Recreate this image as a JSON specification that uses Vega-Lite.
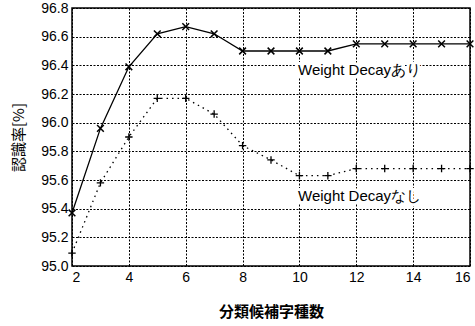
{
  "$schema": "https://vega.github.io/schema/vega-lite/v6.json",
  "width": 398,
  "height": 258,
  "autosize": {"type": "none"},
  "padding": {"left": 72, "top": 8, "right": 5, "bottom": 60},
  "background": "white",
  "config": {
    "view": {"stroke": "black", "strokeWidth": 1.5},
    "font": "Liberation Sans"
  },
  "datasets": {
    "series": [
      {"k": 2, "rate": 95.37, "wd": "あり"},
      {"k": 3, "rate": 95.96, "wd": "あり"},
      {"k": 4, "rate": 96.39, "wd": "あり"},
      {"k": 5, "rate": 96.62, "wd": "あり"},
      {"k": 6, "rate": 96.67, "wd": "あり"},
      {"k": 7, "rate": 96.62, "wd": "あり"},
      {"k": 8, "rate": 96.50, "wd": "あり"},
      {"k": 9, "rate": 96.50, "wd": "あり"},
      {"k": 10, "rate": 96.50, "wd": "あり"},
      {"k": 11, "rate": 96.50, "wd": "あり"},
      {"k": 12, "rate": 96.55, "wd": "あり"},
      {"k": 13, "rate": 96.55, "wd": "あり"},
      {"k": 14, "rate": 96.55, "wd": "あり"},
      {"k": 15, "rate": 96.55, "wd": "あり"},
      {"k": 16, "rate": 96.55, "wd": "あり"},
      {"k": 2, "rate": 95.09, "wd": "なし"},
      {"k": 3, "rate": 95.58, "wd": "なし"},
      {"k": 4, "rate": 95.90, "wd": "なし"},
      {"k": 5, "rate": 96.17, "wd": "なし"},
      {"k": 6, "rate": 96.17, "wd": "なし"},
      {"k": 7, "rate": 96.06, "wd": "なし"},
      {"k": 8, "rate": 95.84, "wd": "なし"},
      {"k": 9, "rate": 95.74, "wd": "なし"},
      {"k": 10, "rate": 95.63, "wd": "なし"},
      {"k": 11, "rate": 95.63, "wd": "なし"},
      {"k": 12, "rate": 95.68, "wd": "なし"},
      {"k": 13, "rate": 95.68, "wd": "なし"},
      {"k": 14, "rate": 95.68, "wd": "なし"},
      {"k": 15, "rate": 95.68, "wd": "なし"},
      {"k": 16, "rate": 95.68, "wd": "なし"}
    ],
    "labels": [
      {"k": 9.95, "rate": 96.37, "text": "Weight Decayあり"},
      {"k": 9.95, "rate": 95.49, "text": "Weight Decayなし"}
    ]
  },
  "encoding": {
    "x": {
      "field": "k", "type": "quantitative",
      "scale": {"domain": [2, 16], "nice": false, "zero": false},
      "axis": {
        "values": [2, 4, 6, 8, 10, 12, 14, 16],
        "title": "分類候補字種数",
        "titleFont": "Noto Sans CJK JP",
        "titleFontSize": 15,
        "titleFontWeight": "bold",
        "titleColor": "black",
        "titlePadding": 20,
        "labelFontSize": 14,
        "labelColor": "black",
        "labelPadding": 4,
        "domain": false,
        "ticks": false,
        "grid": true,
        "gridColor": "black",
        "gridDash": [2, 1.5],
        "gridWidth": 1,
        "gridOpacity": 1
      }
    },
    "y": {
      "field": "rate", "type": "quantitative",
      "scale": {"domain": [95.0, 96.8], "nice": false, "zero": false},
      "axis": {
        "values": [95.0, 95.2, 95.4, 95.6, 95.8, 96.0, 96.2, 96.4, 96.6, 96.8],
        "format": ".1f",
        "title": "認識率[%]",
        "titleFont": "Noto Sans CJK JP",
        "titleFontSize": 15,
        "titleFontWeight": "normal",
        "titleColor": "black",
        "titlePadding": 14,
        "labelFontSize": 14,
        "labelColor": "black",
        "labelPadding": 4,
        "domain": false,
        "ticks": false,
        "grid": true,
        "gridColor": "black",
        "gridDash": [2, 1.5],
        "gridWidth": 1,
        "gridOpacity": 1
      }
    }
  },
  "layer": [
    {
      "data": {"name": "series"},
      "transform": [{"filter": "datum.wd === 'あり'"}],
      "mark": {"type": "line", "color": "black", "strokeWidth": 1.3},
      "encoding": {}
    },
    {
      "data": {"name": "series"},
      "transform": [{"filter": "datum.wd === 'なし'"}],
      "mark": {"type": "line", "color": "black", "strokeWidth": 1.3, "strokeDash": [1.5, 4]},
      "encoding": {}
    },
    {
      "data": {"name": "series"},
      "transform": [{"filter": "datum.wd === 'あり'"}],
      "mark": {"type": "point", "shape": "M-1,-1L1,1M-1,1L1,-1", "filled": false, "stroke": "black", "strokeWidth": 1.5, "size": 45, "opacity": 1},
      "encoding": {}
    },
    {
      "data": {"name": "series"},
      "transform": [{"filter": "datum.wd === 'なし'"}],
      "mark": {"type": "point", "shape": "M-1,0L1,0M0,-1L0,1", "filled": false, "stroke": "black", "strokeWidth": 1.3, "size": 55, "opacity": 1},
      "encoding": {}
    },
    {
      "data": {"name": "labels"},
      "mark": {"type": "text", "align": "left", "baseline": "middle", "font": "Liberation Sans", "fontSize": 15, "color": "white", "stroke": "white", "strokeWidth": 6},
      "encoding": {"text": {"field": "text"}}
    },
    {
      "data": {"name": "labels"},
      "mark": {"type": "text", "align": "left", "baseline": "middle", "font": "Liberation Sans", "fontSize": 15, "color": "black"},
      "encoding": {"text": {"field": "text"}}
    }
  ]
}
